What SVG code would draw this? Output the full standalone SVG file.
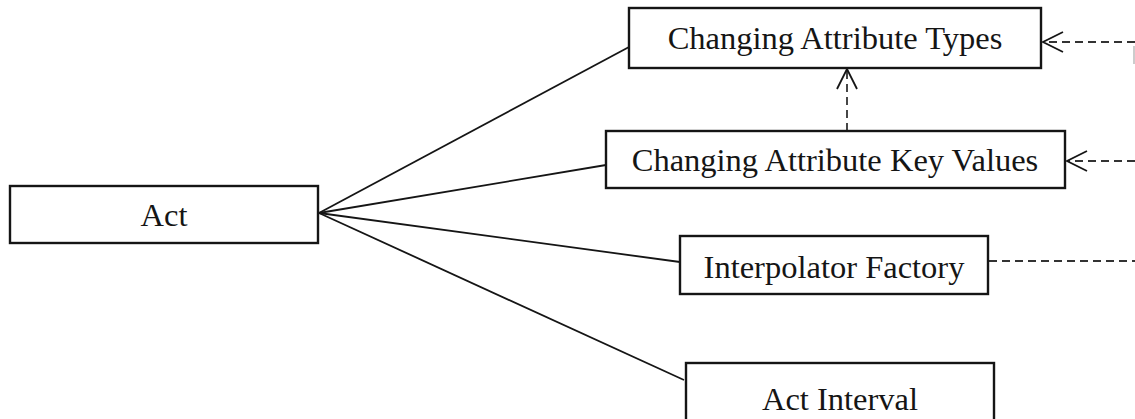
<svg xmlns="http://www.w3.org/2000/svg" width="1135" height="419" viewBox="0 0 1135 419">
  <style>
    .box { fill: #ffffff; stroke: #151515; stroke-width: 2.4; }
    .label { font-family: "Liberation Serif", "Times New Roman", serif; font-size: 32.5px; fill: #151515; text-anchor: middle; }
    .assoc { stroke: #151515; stroke-width: 1.8; fill: none; }
    .dep { stroke: #333333; stroke-width: 1.8; fill: none; stroke-dasharray: 8 5; }
  </style>
  <defs>
    <marker id="open-arrow" markerWidth="24" markerHeight="24" refX="21" refY="11" orient="auto" markerUnits="userSpaceOnUse">
      <path d="M1,1 L21,11 L1,21" fill="none" stroke="#151515" stroke-width="1.8"/>
    </marker>
  </defs>

  <!-- associations and dependencies -->
  <g id="connectors">
    <line class="assoc" x1="319" y1="213" x2="629" y2="47"/>
    <line class="assoc" x1="319" y1="213" x2="606" y2="165"/>
    <line class="assoc" x1="319" y1="213" x2="680" y2="262"/>
    <line class="assoc" x1="319" y1="213" x2="684" y2="380"/>
    <line class="dep" x1="847" y1="131" x2="847" y2="69" marker-end="url(#open-arrow)"/>
    <line class="dep" x1="1135" y1="42" x2="1043" y2="42" marker-end="url(#open-arrow)"/>
    <line class="dep" x1="1135" y1="161" x2="1067" y2="161" marker-end="url(#open-arrow)"/>
    <line class="dep" x1="989" y1="261" x2="1135" y2="261"/>
    <line x1="1134" y1="46" x2="1134" y2="64" stroke="#bbbbbb" stroke-width="1.5"/>
  </g>

  <g id="act">
    <rect class="box" x="10" y="186" width="308" height="57"/>
    <text class="label" x="164" y="226">Act</text>
  </g>

  <g id="changing-attribute-types">
    <rect class="box" x="629" y="8" width="412" height="60"/>
    <text class="label" x="835" y="49">Changing Attribute Types</text>
  </g>

  <g id="changing-attribute-key-values">
    <rect class="box" x="606" y="131" width="459" height="57"/>
    <text class="label" x="835" y="171">Changing Attribute Key Values</text>
  </g>

  <g id="interpolator-factory">
    <rect class="box" x="680" y="236" width="308" height="58"/>
    <text class="label" x="834" y="278">Interpolator Factory</text>
  </g>

  <g id="act-interval">
    <rect class="box" x="686" y="363" width="308" height="60"/>
    <text class="label" x="840" y="410">Act Interval</text>
  </g>
</svg>
